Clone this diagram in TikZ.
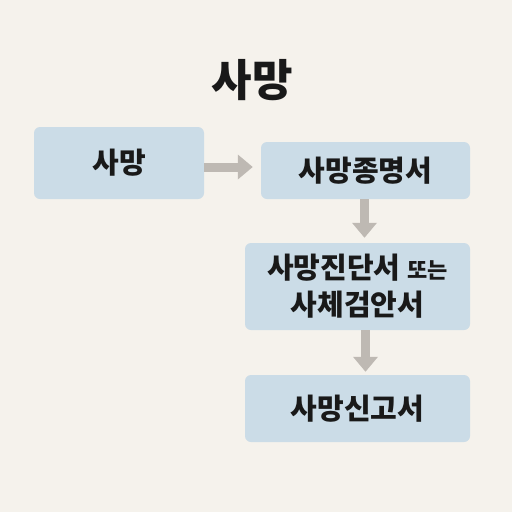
\documentclass[tikz,border=0pt]{standalone}
\usepackage{fontspec}
\newfontfamily\krfont{Noto Sans CJK KR}
\usetikzlibrary{arrows.meta, positioning, calc}
\definecolor{paper}{RGB}{245,242,236}
\definecolor{boxblue}{RGB}{203,220,231}
\definecolor{flowgray}{RGB}{190,185,179}
\tikzset{
    stepbox/.style={fill=boxblue, rounded corners=6pt, inner sep=0pt, align=center,
        font=\krfont\bfseries\fontsize{29}{37}\selectfont, text=black!90},
    flow/.style={draw=flowgray, line width=9pt,
        -{Triangle[length=15pt, width=24pt]}}
}
\begin{document}
\begin{tikzpicture}[x=1pt, y=-1pt]
    \fill[paper] (0,0) rectangle (512,512);
    \useasboundingbox (0,0) rectangle (512,512);
    % title
    \node[font=\krfont\bfseries\fontsize{44}{44}\selectfont, text=black!90] (title) at (252,80) {사망};
    % steps
    \node[stepbox, minimum width=170pt, minimum height=72pt] (death) at (119,163) {사망};
    \node[stepbox, minimum width=209pt, minimum height=57pt] (notice) at (365.5,170.5) {사망종명서};
    \node[stepbox, minimum width=225pt, minimum height=87pt] (diag) at (357.5,286.5)
        {사망진단서 {\fontsize{22}{37}\selectfont 또는}\\사체검안서};
    \node[stepbox, minimum width=225pt, minimum height=67pt] (report) at (357.5,408.5) {사망신고서};
    % connectors
    \draw[flow, shorten >=8pt] ([yshift=-4pt]death.east) -- ([yshift=-4pt]death.east -| notice.west);
    \draw[flow, shorten >=5pt] ([xshift=-1pt]notice.south) -- ([xshift=-1pt]notice.south |- diag.north);
    \draw[flow, shorten >=3pt] (diag.south -| notice.south) -- (report.north -| notice.south);
\end{tikzpicture}
\end{document}
